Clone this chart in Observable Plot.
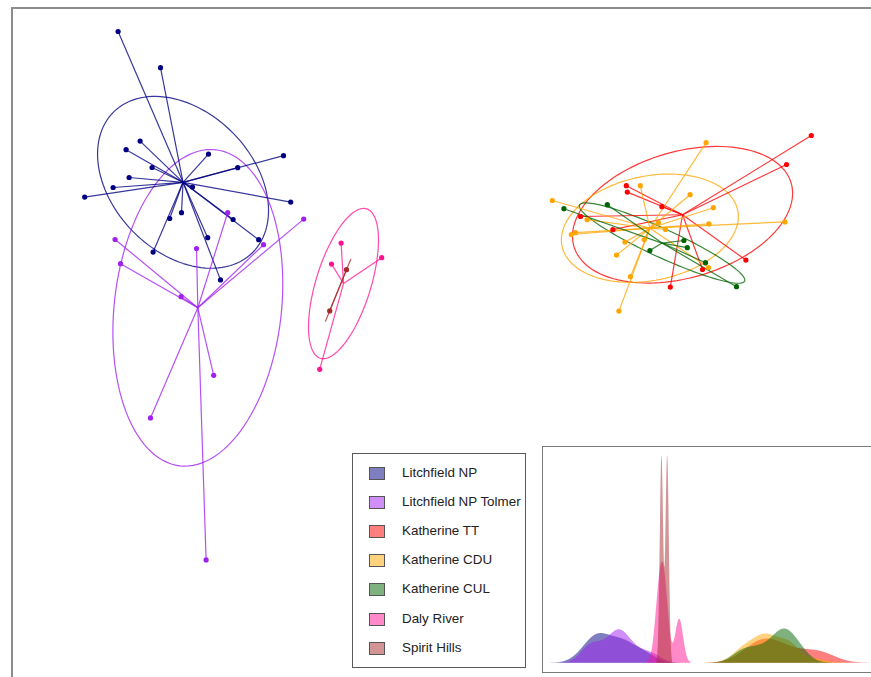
<!DOCTYPE html>
<html>
<head>
<meta charset="utf-8">
<script src="https://cdn.jsdelivr.net/npm/d3@7"></script>
<script src="https://cdn.jsdelivr.net/npm/@observablehq/plot@0.6"></script>
<style>
  html, body { margin: 0; padding: 0; background: #fff; overflow: hidden; }
  #wrap { position: relative; width: 871px; height: 677px; overflow: hidden; font-family: "Liberation Sans", Arial, Helvetica, sans-serif; }
  #frame { position: absolute; left: 11px; top: 7px; width: 900px; height: 700px; border-top: 2px solid #8c8c8c; border-left: 2px solid #8c8c8c; box-sizing: border-box; }
  #main { position: absolute; left: 0; top: 0; }
  #legend { position: absolute; left: 352px; top: 453px; width: 174px; height: 215px; border: 1px solid #5a5a5a; background: #fff; box-sizing: border-box; }
  .row { position: absolute; left: 0; height: 20px; display: flex; align-items: center; }
  .sw { position: absolute; left: 16px; width: 16px; height: 13px; border: 1px solid #555; box-sizing: border-box; }
  .lab { position: absolute; left: 49px; font-size: 13.4px; color: #222; white-space: nowrap; line-height: 20px; }
  #inset { position: absolute; left: 542px; top: 446px; width: 345px; height: 227px; border: 1.5px solid #7a7a7a; background: #fff; box-sizing: border-box; }
</style>
</head>
<body>
<div id="wrap">
  <div id="frame"></div>
  <div id="main"></div>
  <div id="legend"></div>
  <div id="inset"></div>
</div>
<script>
// Population labels and their colours
const groups = ["Litchfield NP", "Litchfield NP Tolmer", "Katherine TT", "Katherine CDU", "Katherine CUL", "Daly River", "Spirit Hills"];
const colors = ["#000080", "#A020F0", "#FF0000", "#FFA500", "#006400", "#FF1493", "#A52A2A"];

// Discriminant function scores (LD1, LD2) per individual
const litchfieldLD1 = [-16.62, -14.5, -15.52, -16.22, -14.92, -16.07, -16.87, -18.29, -12.1, -8.35, -10.64, -12.9, -7.99, -13.45, -14.04, -10.87, -9.59, -12.14, -14.87, -11.5];
const litchfieldLD2 = [13.45, 11.64, 7.97, 7.54, 6.65, 6.15, 5.65, 5.17, 7.32, 7.24, 6.64, 5.67, 4.92, 4.39, 4.1, 4.05, 3.04, 3.14, 2.42, 1.03];

const tolmerLD1 = [-11.14, -16.77, -16.5, -12.7, -13.47, -7.34, -9.35, -11.84, -15.0, -12.22];
const tolmerLD2 = [4.39, 3.05, 1.84, 2.6, 0.19, 4.07, 2.79, -3.74, -5.87, -12.97];

const katherineTTLD1 = [18.04, 16.8, 8.79, 8.84, 10.57, 6.5, 8.12, 14.77, 12.6, 10.99];
const katherineTTLD2 = [8.25, 6.8, 5.74, 5.42, 4.69, 4.2, 3.54, 2.02, 1.55, 0.67];

const katherineCDULD1 = [12.78, 9.49, 11.98, 5.09, 13.14, 16.72, 12.92, 6.83, 6.04, 6.25, 8.3, 9.0, 8.42, 12.9, 10.4, 10.75, 8.72, 9.69];
const katherineCDULD2 = [7.89, 5.74, 5.29, 5.0, 4.64, 3.93, 3.83, 4.04, 3.3, 3.39, 2.27, 1.19, -0.53, 1.65, 3.9, 3.55, 2.92, 3.05];

const katherineCULLD1 = [5.67, 7.84, 11.67, 11.84, 9.97, 12.75, 14.3];
const katherineCULLD2 = [4.59, 4.79, 3.0, 2.64, 2.5, 1.89, 0.69];

const dalyLD1 = [-5.47, -5.95, -3.44, -6.54];
const dalyLD2 = [2.87, 1.82, 2.14, -3.44];

const spiritLD1 = [-5.2, -6.04];
const spiritLD2 = [1.54, -0.52];

const ld1 = [litchfieldLD1, tolmerLD1, katherineTTLD1, katherineCDULD1, katherineCULLD1, dalyLD1, spiritLD1];
const ld2 = [litchfieldLD2, tolmerLD2, katherineTTLD2, katherineCDULD2, katherineCULLD2, dalyLD2, spiritLD2];

// Long table of individuals
const inds = groups.flatMap((g, i) => ld1[i].map((v, j) => ({group: g, ld1: v, ld2: ld2[i][j]})));

// Group centroids
const cents = groups.map((g, i) => ({group: g, ld1: d3.mean(ld1[i]), ld2: d3.mean(ld2[i])}));
const centOf = new Map(cents.map(c => [c.group, c]));
const stars = inds.map(d => ({group: d.group, x1: centOf.get(d.group).ld1, y1: centOf.get(d.group).ld2, x2: d.ld1, y2: d.ld2}));

// Inertia ellipse (1.5 standard deviations, population covariance)
function inertiaEllipse(xs, ys, g, k = 1.5, steps = 120) {
  const n = xs.length, mx = d3.mean(xs), my = d3.mean(ys);
  let sxx = 0, syy = 0, sxy = 0;
  for (let i = 0; i < n; i++) {
    const dx = xs[i] - mx, dy = ys[i] - my;
    sxx += dx * dx; syy += dy * dy; sxy += dx * dy;
  }
  sxx /= n; syy /= n; sxy /= n;
  const tr = sxx + syy, det = sxx * syy - sxy * sxy;
  const disc = Math.sqrt(Math.max(tr * tr / 4 - det, 0));
  const l1 = tr / 2 + disc, l2 = Math.max(tr / 2 - disc, 0);
  let ux, uy;
  if (Math.abs(sxy) > 1e-12) { ux = sxy; uy = l1 - sxx; } else if (sxx >= syy) { ux = 1; uy = 0; } else { ux = 0; uy = 1; }
  const norm = Math.hypot(ux, uy); ux /= norm; uy /= norm;
  const a = k * Math.sqrt(l1), b = k * Math.sqrt(l2);
  const out = [];
  for (let s = 0; s < steps; s++) {
    const t = 2 * Math.PI * s / steps;
    const ca = a * Math.cos(t), sb = b * Math.sin(t);
    out.push({group: g, ld1: mx + ca * ux - sb * uy, ld2: my + ca * uy + sb * ux});
  }
  return out;
}
const ellipses = groups.map((g, i) => inertiaEllipse(ld1[i], ld2[i], g));

const colorScale = {domain: groups, range: colors};

// Scatter of the first two discriminant functions
const main = Plot.plot({
  width: 871,
  height: 677,
  marginTop: 0, marginRight: 0, marginBottom: 0, marginLeft: 0,
  x: {domain: [-22.5, 21.05], axis: null},
  y: {domain: [-18.85, 15], axis: null},
  color: colorScale,
  style: {background: "transparent", overflow: "visible"},
  marks: [
    ...ellipses.map((e, i) => Plot.line(e, {x: "ld1", y: "ld2", curve: "linear-closed", stroke: colors[i], strokeWidth: 1.2, strokeOpacity: 0.78})),
    Plot.link(stars, {x1: "x1", y1: "y1", x2: "x2", y2: "y2", stroke: "group", strokeWidth: 1.2, strokeOpacity: 0.78}),
    Plot.dot(inds, {x: "ld1", y: "ld2", fill: "group", r: 2.6})
  ]
});
document.getElementById("main").appendChild(main);

// Legend
const legend = document.getElementById("legend");
groups.forEach((g, i) => {
  const row = document.createElement("div");
  row.className = "row";
  row.style.top = (9 + i * 29.1) + "px";
  const sw = document.createElement("div");
  sw.className = "sw";
  sw.style.background = d3.color(colors[i]).copy({opacity: 0.5}).formatRgb();
  sw.style.top = "4px";
  const lab = document.createElement("div");
  lab.className = "lab";
  lab.textContent = g;
  row.appendChild(sw);
  row.appendChild(lab);
  legend.appendChild(row);
});

// Kernel density of LD1 per group (Gaussian kernel, rule-of-thumb bandwidth)
function bwNrd0(v) {
  const s = v.slice().sort(d3.ascending);
  const sd = d3.deviation(s);
  const iqr = d3.quantileSorted(s, 0.75) - d3.quantileSorted(s, 0.25);
  let lo = Math.min(sd, iqr / 1.34);
  if (!(lo > 0)) lo = sd || Math.abs(s[0]) || 1;
  return 0.9 * lo * Math.pow(s.length, -0.2);
}
function kde(v, g, m = 512) {
  const bw = bwNrd0(v);
  const from = d3.min(v) - 3 * bw, to = d3.max(v) + 3 * bw;
  const c = 1 / (v.length * bw * Math.sqrt(2 * Math.PI));
  const out = [];
  for (let k = 0; k < m; k++) {
    const x = from + (to - from) * k / (m - 1);
    let s = 0;
    for (const xi of v) { const z = (x - xi) / bw; s += Math.exp(-0.5 * z * z); }
    out.push({group: g, x, y: s * c});
  }
  return out;
}
const dens = groups.map((g, i) => kde(ld1[i], g));
const maxD = d3.max(dens, d => d3.max(d, p => p.y));

const insetW = 342, insetH = 224;
const inset = Plot.plot({
  width: insetW,
  height: insetH,
  marginTop: 0, marginRight: 0, marginBottom: 0, marginLeft: 0,
  x: {domain: [-159.5 / 6.8, (insetW - 159.5) / 6.8], axis: null},
  y: {domain: [-0.04 * maxD, 1.04 * maxD], axis: null},
  style: {background: "transparent"},
  marks: dens.map((d, i) => Plot.areaY(d, {x: "x", y: "y", fill: colors[i], fillOpacity: 0.5}))
});
document.getElementById("inset").appendChild(inset);
</script>
</body>
</html>
